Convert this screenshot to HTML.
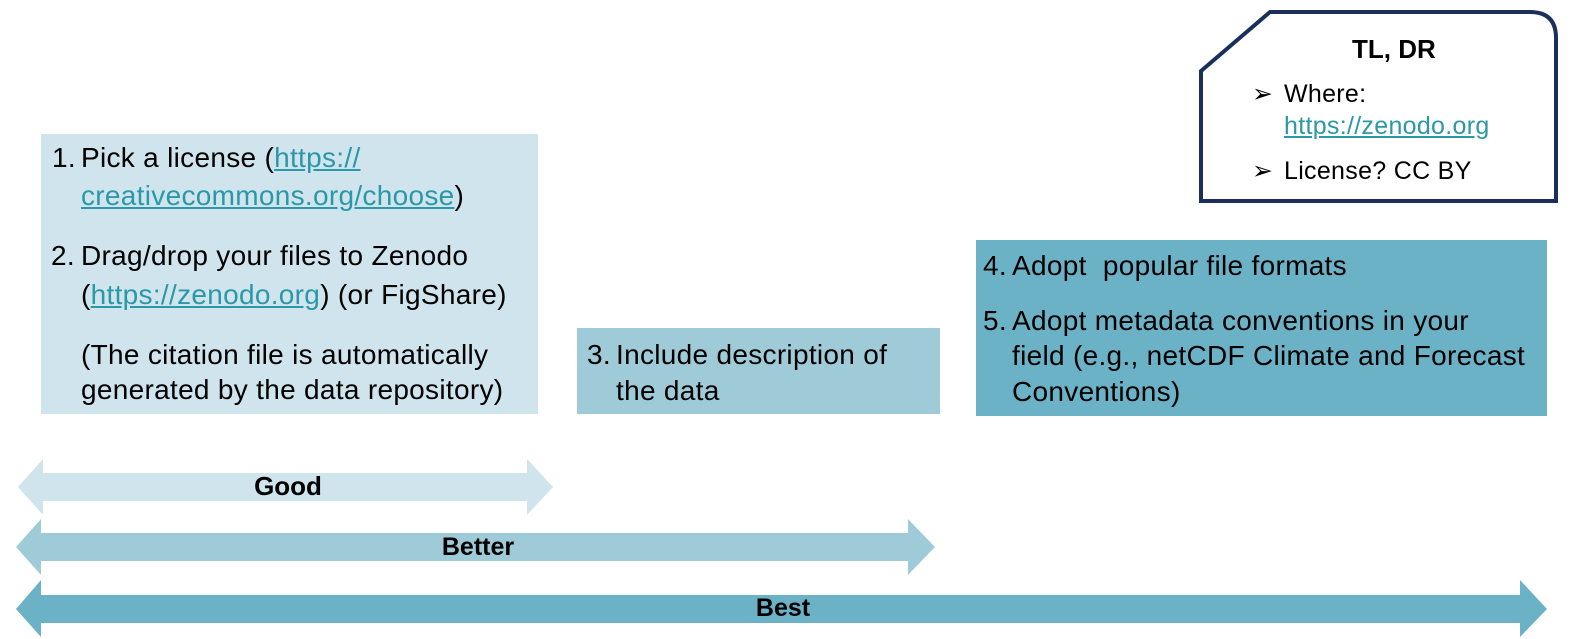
<!DOCTYPE html>
<html><head><meta charset="utf-8"><style>
body{margin:0;width:1579px;height:639px;background:#fff;position:relative;overflow:hidden;font-family:"Liberation Sans",Arial,sans-serif;color:#000}
.t{position:absolute;font-size:28px;letter-spacing:0.3px;white-space:nowrap;line-height:28px}
a{color:#2b98a8;text-decoration:underline}
.box{position:absolute}
.s{font-size:25px;letter-spacing:0.3px}
</style></head><body>
<div class="box" style="left:41px;top:134px;width:497px;height:280px;background:#cfe4ec"></div>
<div class="box" style="left:577px;top:328px;width:363px;height:86px;background:#9fcbd8"></div>
<div class="box" style="left:976px;top:240px;width:571px;height:176px;background:#6cb2c6"></div>

<div class="t" style="left:52px;top:144px">1.</div>
<div class="t" style="left:81px;top:144px">Pick a license (<a>https://</a></div>
<div class="t" style="left:81px;top:182px"><a>creativecommons.org/choose</a>)</div>
<div class="t" style="left:51px;top:242px">2.</div>
<div class="t" style="left:81px;top:242px">Drag/drop your files to Zenodo</div>
<div class="t" style="left:81px;top:281px">(<a>https://zenodo.org</a>) (or FigShare)</div>
<div class="t" style="left:81px;top:341px">(The citation file is automatically</div>
<div class="t" style="left:81px;top:376px">generated by the data repository)</div>

<div class="t" style="left:587px;top:341px">3.</div>
<div class="t" style="left:616px;top:341px">Include description of</div>
<div class="t" style="left:616px;top:377px">the data</div>

<div class="t" style="left:983px;top:252px">4.</div>
<div class="t" style="left:1012px;top:252px">Adopt&nbsp; popular file formats</div>
<div class="t" style="left:983px;top:307px">5.</div>
<div class="t" style="left:1012px;top:307px">Adopt metadata conventions in your</div>
<div class="t" style="left:1012px;top:342px">field (e.g., netCDF Climate and Forecast</div>
<div class="t" style="left:1012px;top:378px">Conventions)</div>

<svg width="1579" height="639" style="position:absolute;left:0;top:0">
<path d="M1270 12 H1530 Q1556 12 1556 38 V201 H1201 V71 Z" fill="#fff" stroke="#1b2f5b" stroke-width="4"/>
<polygon points="18,487 43,459 43,473 527,473 527,459 553,487 527,515 527,501 43,501 43,515" fill="#cfe4ec"/>
<polygon points="16,547 41,519 41,533 908,533 908,519 935,547 908,575 908,561 41,561 41,575" fill="#9fcbd8"/>
<polygon points="16,609 41,580 41,595 1520,595 1520,580 1547,609 1520,637 1520,623 41,623 41,637" fill="#6cb2c6"/>
<text x="288" y="495" font-size="26" font-weight="bold" text-anchor="middle" font-family="Liberation Sans,Arial,sans-serif">Good</text>
<text x="478" y="555" font-size="25" font-weight="bold" text-anchor="middle" font-family="Liberation Sans,Arial,sans-serif">Better</text>
<text x="783" y="616" font-size="25" font-weight="bold" text-anchor="middle" font-family="Liberation Sans,Arial,sans-serif">Best</text>
</svg>
<div class="t" style="left:1352px;top:35px;font-weight:bold;font-size:26px;letter-spacing:0">TL, DR</div>
<div class="t s" style="left:1252px;top:80px">➢</div>
<div class="t s" style="left:1284px;top:80px">Where:</div>
<div class="t s" style="left:1284px;top:112px"><a>https://zenodo.org</a></div>
<div class="t s" style="left:1252px;top:157px">➢</div>
<div class="t s" style="left:1284px;top:157px">License? CC BY</div>
</body></html>
